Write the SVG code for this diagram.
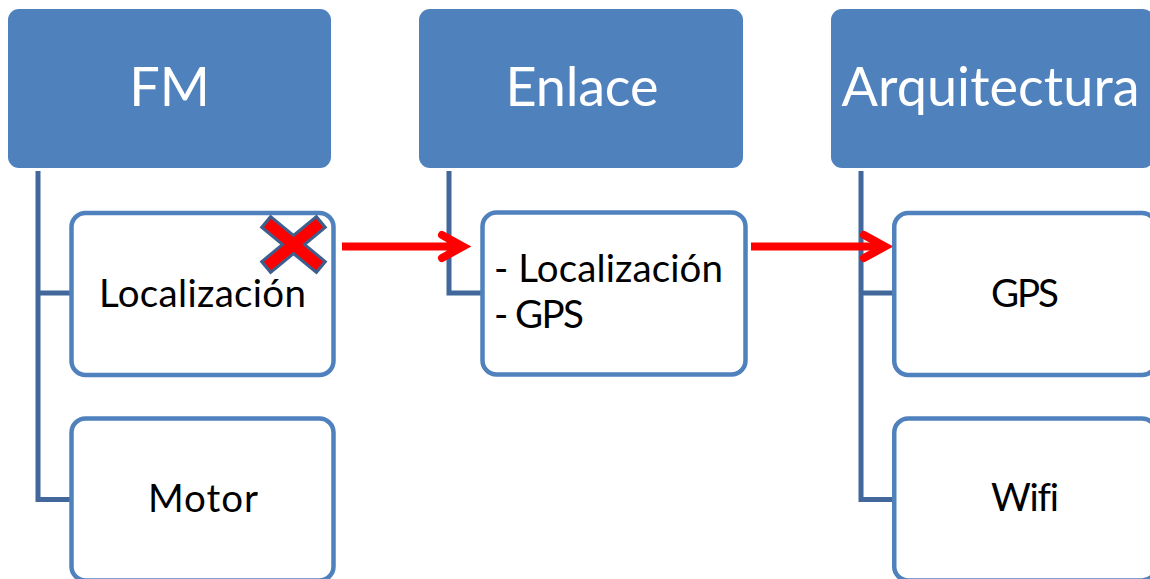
<svg xmlns="http://www.w3.org/2000/svg" width="1150" height="579" viewBox="0 0 1150 579">
  <defs>
    <style>
      .head { fill: #4F81BD; }
      .head-label { fill: #FFFFFF; font-family: Lato, "Open Sans", sans-serif; font-size: 54px; text-anchor: middle; font-variant-ligatures: none; }
      .item { fill: #FFFFFF; stroke: #4F81BD; stroke-width: 4.5; }
      .item-label { fill: #000000; font-family: Lato, "Open Sans", sans-serif; font-size: 38.5px; font-variant-ligatures: none; }
      .mid { text-anchor: middle; }
      .tree { fill: none; stroke: #41679B; stroke-width: 5; stroke-linejoin: miter; }
      .flow { fill: none; stroke: #FF0000; stroke-width: 8; }
      .cross-edge { stroke: #3D5F8D; stroke-width: 17; stroke-linecap: butt; }
      .cross-fill { stroke: #FF0000; stroke-width: 11; stroke-linecap: butt; }
    </style>
    <marker id="chevron" markerUnits="userSpaceOnUse" markerWidth="40" markerHeight="40" refX="0" refY="0" orient="auto" overflow="visible" viewBox="-30 -20 40 40">
      <path d="M-21,-11.5 L0,0 L-21,11.5" fill="none" stroke="#FF0000" stroke-width="8" stroke-linecap="round" stroke-linejoin="miter"/>
    </marker>
  </defs>

  <rect width="1150" height="579" fill="#FFFFFF"/>

  <!-- tree lines and red flow arrows -->
  <g id="connectors">
    <path class="tree" d="M38,171 V499.5 H72 M38,293 H72"/>
    <path class="tree" d="M449,171 V293 H484"/>
    <path class="tree" d="M861,171 V499.5 H896 M861,293 H896"/>
    <path class="flow" d="M342,246.5 H463" marker-end="url(#chevron)"/>
    <path class="flow" d="M751,246.5 H885" marker-end="url(#chevron)"/>
  </g>

  <!-- column headers -->
  <g id="fm">
    <rect class="head" x="8" y="9" width="323" height="159" rx="11"/>
    <text class="head-label" x="169.5" y="106">FM</text>
  </g>
  <g id="enlace">
    <rect class="head" x="419" y="9" width="324" height="159" rx="11"/>
    <text class="head-label" x="582" y="106" textLength="153">Enlace</text>
  </g>
  <g id="arquitectura">
    <rect class="head" x="831" y="9" width="323" height="159" rx="11"/>
    <text class="head-label" x="990.5" y="106" textLength="298">Arquitectura</text>
  </g>

  <!-- FM children -->
  <g id="fm-localizacion">
    <rect class="item" x="71.5" y="213" width="262" height="162" rx="14"/>
    <text class="item-label mid" x="202.5" y="307" textLength="207">Localización</text>
  </g>
  <g id="fm-motor">
    <rect class="item" x="71.5" y="418.5" width="262" height="162" rx="14"/>
    <text class="item-label mid" x="203" y="511.5" textLength="110">Motor</text>
  </g>

  <!-- Enlace child -->
  <g id="enlace-item">
    <rect class="item" x="482.5" y="212.5" width="263" height="162" rx="14"/>
    <text class="item-label" x="494" y="282" textLength="229">- Localización</text>
    <text class="item-label" x="494" y="328" textLength="90">- GPS</text>
  </g>

  <!-- Arquitectura children -->
  <g id="arq-gps">
    <rect class="item" x="894.25" y="213" width="262" height="162" rx="14"/>
    <text class="item-label mid" x="1025" y="307" textLength="68">GPS</text>
  </g>
  <g id="arq-wifi">
    <rect class="item" x="894.25" y="418.5" width="262" height="162" rx="14"/>
    <text class="item-label mid" x="1025" y="511" textLength="68">Wifi</text>
  </g>

  <!-- cancel mark on the FM localisation item -->
  <g id="cancel-mark">
    <line class="cross-edge" x1="265" y1="221" x2="322" y2="268"/>
    <line class="cross-edge" x1="322" y1="221" x2="265" y2="268"/>
    <line class="cross-fill" x1="267.5" y1="223.1" x2="319.5" y2="265.9"/>
    <line class="cross-fill" x1="319.5" y1="223.1" x2="267.5" y2="265.9"/>
  </g>
</svg>
